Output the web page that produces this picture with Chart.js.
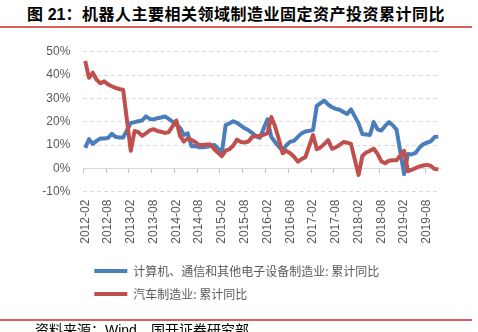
<!DOCTYPE html>
<html>
<head>
<meta charset="utf-8">
<script src="https://cdn.jsdelivr.net/npm/chart.js@4/dist/chart.umd.min.js"></script>
<style>
  html, body { margin: 0; padding: 0; background: #ffffff; }
  #wrap { position: relative; width: 478px; height: 332px; overflow: hidden; }
  #chart { position: absolute; left: 0; top: 0; }
  .title { position: absolute; left: 27px; top: 4px; font: bold 16px "Noto Sans CJK SC", sans-serif;
           line-height: 18px; color: #000; white-space: nowrap; letter-spacing: 0.5px; }
  .title .n { font-family: "Liberation Sans", Arial, sans-serif; letter-spacing: 0; }
  .rule { position: absolute; left: 0; width: 472px; height: 1.5px; background: #d9605f; }
  .source { position: absolute; left: 35px; top: 321px; font: 14px "Noto Sans CJK SC", sans-serif;
            line-height: 16px; color: #000; white-space: nowrap; }
  .source .w { font-family: "Liberation Sans", Arial, sans-serif; }
</style>
</head>
<body>
<div id="wrap">
  <div class="title">图 <span class="n">21</span>：机器人主要相关领域制造业固定资产投资累计同比</div>
  <div class="rule" style="top:26px"></div>
  <canvas id="chart" width="478" height="332"></canvas>
  <div class="rule" style="top:319px"></div>
  <div class="source">资料来源：<span class="w">Wind</span>，国开证券研究部</div>
</div>
<script>
// Monthly categories, 2012-02 to 2019-11 (January has no cumulative figure)
const months = [
  '2012-02','2012-03','2012-04','2012-05','2012-06','2012-07','2012-08','2012-09','2012-10','2012-11','2012-12',
  '2013-01','2013-02','2013-03','2013-04','2013-05','2013-06','2013-07','2013-08','2013-09','2013-10','2013-11','2013-12',
  '2014-01','2014-02','2014-03','2014-04','2014-05','2014-06','2014-07','2014-08','2014-09','2014-10','2014-11','2014-12',
  '2015-01','2015-02','2015-03','2015-04','2015-05','2015-06','2015-07','2015-08','2015-09','2015-10','2015-11','2015-12',
  '2016-01','2016-02','2016-03','2016-04','2016-05','2016-06','2016-07','2016-08','2016-09','2016-10','2016-11','2016-12',
  '2017-01','2017-02','2017-03','2017-04','2017-05','2017-06','2017-07','2017-08','2017-09','2017-10','2017-11','2017-12',
  '2018-01','2018-02','2018-03','2018-04','2018-05','2018-06','2018-07','2018-08','2018-09','2018-10','2018-11','2018-12',
  '2019-01','2019-02','2019-03','2019-04','2019-05','2019-06','2019-07','2019-08','2019-09','2019-10','2019-11'
];

// 计算机、通信和其他电子设备制造业: 累计同比 (%)
const electronics = [
  8.8, 12.5, 10.5, 11.8, 12.8, 12.8, 13.0, 14.8, 13.5, 13.2, 13.2,
  null, 19.5, 19.8, 20.2, 20.5, 22.3, 21.2, 21.0, 21.5, 21.8, 22.3, 21.2,
  null, 18.8, 17.3, 14.3, 15.0, 9.5, 9.6, 9.0, 9.0, 9.3, 9.6, 10.0,
  null, 6.8, 18.6, 19.3, 20.2, 19.5, 18.3, 17.2, 16.3, 15.2, 13.8, 13.1,
  null, 21.0, 13.5, 11.3, 9.3, 7.6, 10.0, 11.4, 11.8, 13.5, 15.0, 15.8,
  null, 16.4, 26.8, 28.0, 29.0, 27.3, 26.2, 25.5, 25.1, 24.2, 23.3, 25.3,
  null, 19.3, 14.7, 14.5, 14.3, 19.8, 16.7, 16.2, 18.2, 19.8, 18.5, 16.6,
  null, -2.5, 6.2, 6.0, 6.6, 8.8, 10.3, 11.0, 11.6, 13.4, 13.6
];

// 汽车制造业: 累计同比 (%)
const auto = [
  46.0, 38.8, 41.0, 38.0, 36.5, 37.3, 36.0, 35.2, 34.5, 34.0, 33.6,
  null, 7.5, 16.0, 15.5, 14.0, 15.0, 16.3, 16.8, 16.0, 15.7, 15.2, 15.5,
  null, 20.5, 13.8, 11.5, 12.8, 12.2, 11.3, 10.0, 10.0, 10.2, 10.2, 8.2,
  null, 5.2, 7.6, 8.2, 9.8, 12.3, 11.3, 11.1, 11.5, 13.5, 13.9, 13.8,
  null, 15.0, 22.0, 18.0, 12.5, 6.5, 7.5, 6.5, 5.0, 2.9, 4.0, 4.8,
  null, 14.3, 8.2, 9.0, 10.5, 12.1, 8.4, 9.0, 10.0, 11.3, 11.0, 10.5,
  null, -2.8, 5.3, 6.8, 7.5, 8.4, 6.2, 3.0, 2.2, 3.3, 3.5, 3.5,
  null, 7.5, -1.2, -0.6, 0.1, 0.8, 1.2, 1.5, 1.1, -0.3, -0.4
];

const seriesNames = ['计算机、通信和其他电子设备制造业: 累计同比', '汽车制造业: 累计同比'];
const seriesColors = ['#4a7ebb', '#c0504d'];
const yTicks = [-10, 0, 10, 20, 30, 40, 50];

const axisGray = '#d9d9d9';
const textGray = '#595959';
const tickFont = { family: '"Liberation Sans", Arial, sans-serif', size: 12 };

new Chart(document.getElementById('chart'), {
  type: 'line',
  data: {
    labels: months,
    datasets: [
      { label: seriesNames[0], data: electronics, borderColor: seriesColors[0], backgroundColor: seriesColors[0],
        borderWidth: 4, pointRadius: 0, tension: 0, spanGaps: true, borderJoinStyle: 'round', order: 1 },
      { label: seriesNames[1], data: auto, borderColor: seriesColors[1], backgroundColor: seriesColors[1],
        borderWidth: 4, pointRadius: 0, tension: 0, spanGaps: true, borderJoinStyle: 'round', order: 0 }
    ]
  },
  options: {
    responsive: false,
    animation: false,
    layout: { padding: { left: 40, right: 37.8, top: 51.7, bottom: 22 } },
    plugins: {
      title: { display: false },
      tooltip: { enabled: false },
      legend: {
        position: 'bottom',
        align: 'start',
        fullSize: false,
        labels: {
          boxWidth: 33,
          boxHeight: 4,
          padding: 11,
          color: textGray,
          font: { family: '"Noto Sans CJK SC", sans-serif', size: 12 },
          sort: (a, b) => a.datasetIndex - b.datasetIndex,
          generateLabels(chart) {
            const items = Chart.defaults.plugins.legend.labels.generateLabels(chart);
            items.forEach(it => { it.lineWidth = 0; it.fillStyle = it.strokeStyle; });
            return items;
          }
        }
      }
    },
    scales: {
      x: {
        type: 'category',
        offset: true,
        grid: { display: false, drawTicks: false },
        border: { display: false },
        ticks: {
          autoSkip: false,
          minRotation: 90,
          maxRotation: 90,
          padding: 8,
          color: textGray,
          font: tickFont,
          callback(value, index) { return index % 6 === 0 ? this.getLabelForValue(value) : ''; }
        },
        afterFit(scale) { scale.height = 62.3; }
      },
      // axis line with tick marks along the 0% level
      x2: {
        type: 'category',
        labels: months,
        offset: true,
        position: { y: 0 },
        grid: {
          offset: true,
          drawOnChartArea: false,
          drawTicks: true,
          tickLength: 4,
          color: (ctx) => (ctx.index % 6 === 0 ? '#bfbfbf' : 'rgba(0,0,0,0)')
        },
        border: { display: true, color: axisGray, width: 1 },
        ticks: { display: false }
      },
      y: {
        min: -10,
        max: 50,
        afterBuildTicks(scale) { scale.ticks = yTicks.map(v => ({ value: v })); },
        grid: {
          color: (ctx) => (ctx.tick && ctx.tick.value === 0 ? 'rgba(0,0,0,0)' : axisGray),
          lineWidth: 1,
          drawTicks: false,
          borderDash: [4, 3]
        },
        border: { display: false, dash: [4, 3] },
        ticks: {
          padding: 13,
          color: textGray,
          font: tickFont,
          callback: (v) => v + '%'
        },
        afterFit(scale) { scale.width = 43.3; }
      }
    }
  }
});
</script>
</body>
</html>
